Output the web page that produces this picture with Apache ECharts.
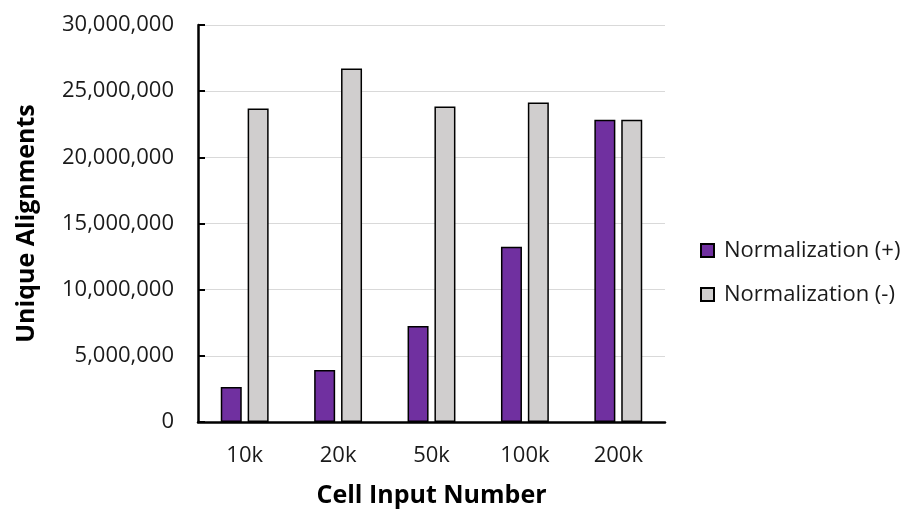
<!DOCTYPE html>
<html>
<head>
<meta charset="utf-8">
<script src="https://cdn.jsdelivr.net/npm/echarts@6/dist/echarts.min.js"></script>
<style>html,body{margin:0;padding:0;background:#fff}#c{width:906px;height:513px}</style>
</head>
<body>
<div id="c"></div>
<script>
const categories = ['10k', '20k', '50k', '100k', '200k'];
const normPlus = [2650000, 3930000, 7260000, 13250000, 22840000];
const normMinus = [23690000, 26720000, 23840000, 24140000, 22840000];
const seriesNames = ['Normalization (+)', 'Normalization (-)'];
const yTicks = { min: 0, max: 30000000, interval: 5000000 };

const FONT = '"Open Sans", sans-serif';
const chart = echarts.init(document.getElementById('c'), null, { renderer: 'canvas' });
chart.setOption({
  animation: false,
  backgroundColor: '#fff',
  textStyle: { fontFamily: FONT },
  grid: { left: 198, right: 241, top: 25, bottom: 89, containLabel: false },
  legend: {
    orient: 'vertical',
    left: 695,
    top: 234,
    itemWidth: 13,
    itemHeight: 13,
    itemGap: 21,
    icon: 'rect',
    textStyle: { fontFamily: FONT, fontSize: 22, color: '#1a1a1a', lineHeight: 23, padding: [0, 0, 0, 5] },
    data: seriesNames
  },
  xAxis: {
    type: 'category',
    data: categories,
    name: 'Cell Input Number',
    nameLocation: 'middle',
    nameGap: 61,
    nameTextStyle: { fontFamily: FONT, fontSize: 25, fontWeight: 'bold', color: '#000' },
    axisLine: { lineStyle: { color: '#000', width: 2.5 } },
    axisTick: { show: false },
    axisLabel: { fontFamily: FONT, fontSize: 22, color: '#1a1a1a', margin: 23 },
    splitLine: { show: false }
  },
  yAxis: {
    type: 'value',
    min: yTicks.min,
    max: yTicks.max,
    interval: yTicks.interval,
    name: 'Unique Alignments',
    nameLocation: 'middle',
    nameGap: 159,
    nameTextStyle: { fontFamily: FONT, fontSize: 25, fontWeight: 'bold', color: '#000' },
    axisLine: { show: true, lineStyle: { color: '#000', width: 2.5 } },
    axisTick: { show: true, inside: true, length: 7, lineStyle: { color: '#000', width: 2 } },
    axisLabel: {
      fontFamily: FONT, fontSize: 22, color: '#1a1a1a', margin: 24,
      formatter: v => v.toLocaleString('en-US')
    },
    splitLine: { show: true, lineStyle: { color: '#D9D9D9', width: 1.2 } }
  },
  series: [
    {
      name: seriesNames[0], type: 'bar', data: normPlus,
      barWidth: 21, barGap: '28%',
      itemStyle: { color: '#7030A0', borderColor: '#000', borderWidth: 1.5 }
    },
    {
      name: seriesNames[1], type: 'bar', data: normMinus,
      barWidth: 21, barGap: '28%',
      itemStyle: { color: '#D0CECE', borderColor: '#000', borderWidth: 1.5 }
    }
  ]
});
</script>
</body>
</html>
